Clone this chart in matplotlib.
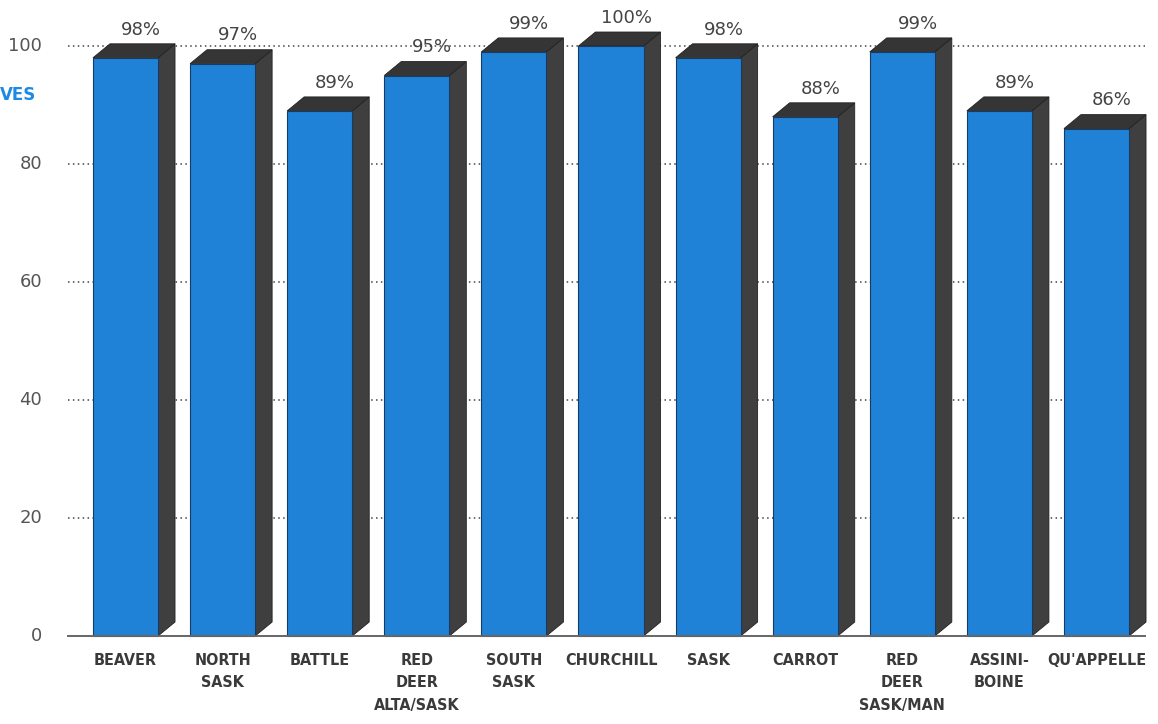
import matplotlib.pyplot as plt
from matplotlib.patches import Polygon

rivers = ['BEAVER', 'NORTH\nSASK', 'BATTLE', 'RED\nDEER\nALTA/SASK', 'SOUTH\nSASK',
          'CHURCHILL', 'SASK', 'CARROT', 'RED\nDEER\nSASK/MAN', 'ASSINI-\nBOINE', "QU'APPELLE"]
values = [98, 97, 89, 95, 99, 100, 98, 88, 99, 89, 86]
yticks = [0, 20, 40, 60, 80, 100]

front = '#1f82d6'
side = '#3f3f3f'
top = '#353535'

fig = plt.figure(figsize=(11.58, 7.24), dpi=100)
ax = fig.add_axes([0, 0, 1, 1])
# pixel -> data mapping: bar i centred at 125.5 + 97.1*i px, value v at 636 - 5.9*v px
ax.set_xlim((0 - 125.5) / 97.1, (1158 - 125.5) / 97.1)
ax.set_ylim(-(724 - 636) / 5.9, 636 / 5.9)
ax.axis('off')

w = 0.67     # front face width
dx = 0.175   # depth, x
dy = 2.37    # depth, y

x_left = (68 - 125.5) / 97.1
x_right = (1145 - 125.5) / 97.1

# dotted grid
for t in yticks[1:]:
    ax.plot([x_left, x_right], [t, t], color='#444444', lw=1.1,
            linestyle=(0, (1, 2.2)), zorder=1)
    ax.text((42 - 125.5) / 97.1, t, str(t), ha='right', va='center',
            fontsize=13, color='#555555')
ax.text((42 - 125.5) / 97.1, 0, '0', ha='right', va='center',
        fontsize=13, color='#555555')

for i, v in enumerate(values):
    x0, x1 = i - w / 2, i + w / 2
    sp = Polygon([(x1, 0), (x1 + dx, dy), (x1 + dx, v + dy), (x1, v)],
                 closed=True, facecolor=side, edgecolor='#222222', lw=0.6, zorder=2)
    tp = Polygon([(x0, v), (x0 + dx, v + dy), (x1 + dx, v + dy), (x1, v)],
                 closed=True, facecolor=top, edgecolor='#222222', lw=0.6, zorder=2)
    ax.add_patch(sp)
    ax.add_patch(tp)
    ax.bar(i, v, width=w, color=front, edgecolor='#1a3a66', lw=0.8, zorder=3)
    ax.text(i + dx * 0.9, v + dy + 0.9, f'{v}%', ha='center', va='bottom',
            fontsize=13, color='#444444')
    ax.text(i, -2.9, rivers[i], ha='center', va='top', fontsize=11.5,
            fontweight='bold', color='#3a3a3a', linespacing=1.6,
            fontstretch='condensed', family=['DejaVu Sans'])

# baseline
ax.plot([x_left, x_right], [0, 0], color='#666666', lw=1.4, zorder=4)

# cropped axis title fragment on the left edge
fig.text(0.0, 1 - 95 / 724, 'VES', ha='left', va='center', fontsize=12,
         fontweight='bold', color='#1e88e5')

fig.savefig('out.png', dpi=100, facecolor='white')
